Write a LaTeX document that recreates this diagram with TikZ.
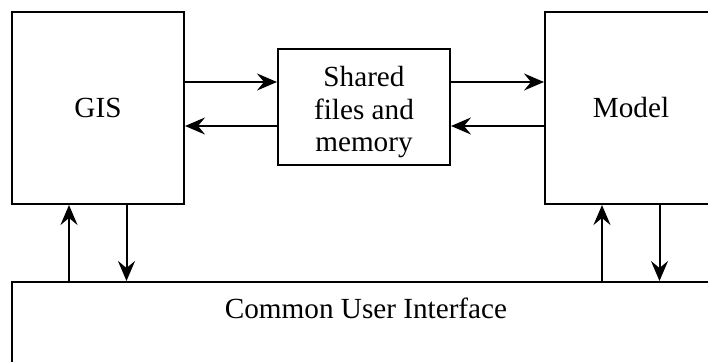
\documentclass[tikz,border=0pt]{standalone}
\usepackage{fontspec}
\setmainfont{Liberation Serif}
\usetikzlibrary{arrows.meta}

\begin{document}
\begin{tikzpicture}[x=0.5pt,y=-0.5pt,
  blk/.style={draw, line width=1pt, inner sep=0pt, align=center,
    font=\fontsize{14.6}{16.25}\selectfont},
  link/.style={line width=1pt, -{Stealth[length=10pt,width=8.5pt,inset=3.5pt]}}]
\useasboundingbox (0,0) rectangle (708,362);
\clip (0,0) rectangle (708,362);

% boxes
\node[blk, minimum width=86pt, minimum height=96pt] (gis) at (98,108) {GIS};
\node[blk, minimum width=86pt, text height=51.5pt, text depth=6.5pt] (shared) at (364,107) {Shared\\files and\\memory};
\node[blk, minimum width=86pt, minimum height=96pt] (model) at (631,108) {Model};
\node[blk, anchor=north, minimum width=354pt, text height=10pt, text depth=50pt, inner ysep=8.5pt] (cui) at (366,281) {Common User Interface};

% levels of the horizontal links
\coordinate (upper) at (0,82);
\coordinate (lower) at (0,126);

\draw[link] (gis.east |- upper) -- (shared.west |- upper);
\draw[link] (shared.west |- lower) -- (gis.east |- lower);
\draw[link] (shared.east |- upper) -- (model.west |- upper);
\draw[link] (model.west |- lower) -- (shared.east |- lower);

% links to the interface
\foreach \n in {gis,model}{
  \path ([xshift=-14.5pt]\n.south) coordinate (\n up)
        ([xshift=14.25pt]\n.south) coordinate (\n down);
  \draw[link] (\n up |- cui.north) -- (\n up);
  \draw[link] (\n down) -- (\n down |- cui.north);
}
\end{tikzpicture}
\end{document}
